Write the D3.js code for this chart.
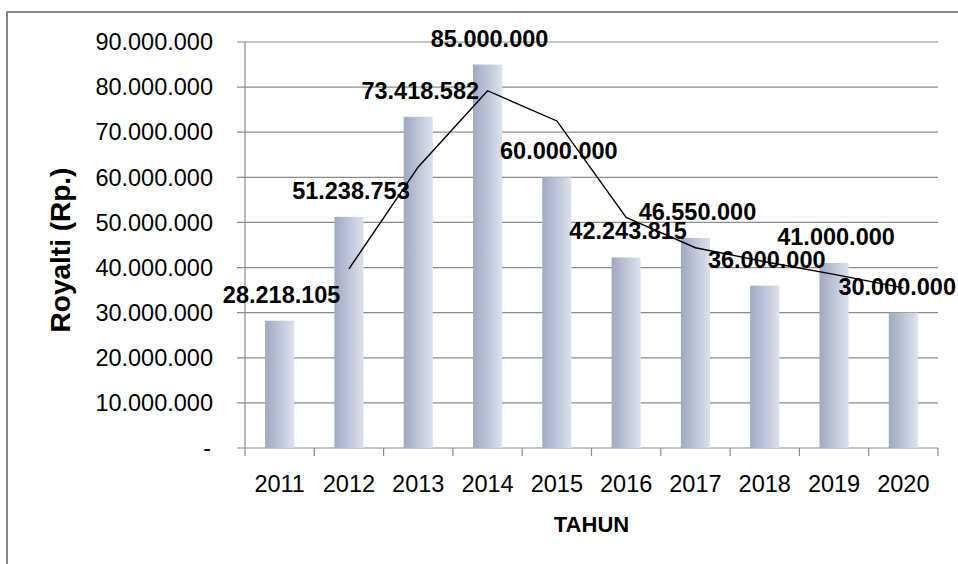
<!DOCTYPE html>
<html>
<head>
<meta charset="utf-8">
<script src="https://cdn.jsdelivr.net/npm/d3@7"></script>
<style>
    body { margin: 0; background: #fff; }
    svg text { font-family: "Liberation Sans", Arial, sans-serif; fill: #000; }
    .tick-label { font-size: 23.5px; }
    .bar-label { font-size: 23.5px; font-weight: bold; }
    .axis-title { font-weight: bold; }
</style>
</head>
<body>
<svg id="chart" width="958" height="564"></svg>
<script>

/*********************/
/*** INIT VARIABLE ***/
/*********************/

let years = ["2011", "2012", "2013", "2014", "2015", "2016", "2017", "2018", "2019", "2020"];
let royalti = [28218105, 51238753, 73418582, 85000000, 60000000, 42243815, 46550000, 36000000, 41000000, 30000000];

// trend line (2 period moving average)
let trend_years = ["2012", "2013", "2014", "2015", "2016", "2017", "2018", "2019", "2020"];
let trend_values = [39700000, 62300000, 79200000, 72500000, 51100000, 44400000, 41300000, 38500000, 35500000];

let y_ticks = [0, 10000000, 20000000, 30000000, 40000000, 50000000, 60000000, 70000000, 80000000, 90000000];

let svg = d3.select("#chart");

let margin = {top: 42, right: 20, bottom: 116, left: 245},
    width  = 938 - margin.left,
    height = 448 - margin.top;

let x = d3.scaleBand().domain(years).range([margin.left, margin.left + width]).paddingInner(0.58).paddingOuter(0.29),
    y = d3.scaleLinear().domain([0, 90000000]).range([margin.top + height, margin.top]);

let id_locale = d3.formatLocale({decimal: ",", thousands: ".", grouping: [3], currency: ["Rp", ""]});
let fmt = id_locale.format(",d");

/********************************/
/*** DECLARE HELPER FUNCTIONS ***/
/********************************/

function draw_frame() {
    svg.append("rect")
        .attr("x", 7)
        .attr("y", 12)
        .attr("width", 1000)
        .attr("height", 600)
        .attr("fill", "none")
        .attr("stroke", "#878787")
        .attr("stroke-width", 2);
}

function draw_gradient() {
    let grad = svg.append("defs").append("linearGradient")
        .attr("id", "bar-grad")
        .attr("x1", "0%").attr("x2", "100%")
        .attr("y1", "0%").attr("y2", "0%");
    grad.append("stop").attr("offset", "0%").attr("stop-color", "#9fa9c5");
    grad.append("stop").attr("offset", "100%").attr("stop-color", "#dee1eb");
}

function draw_axes() {
    // horizontal gridlines, reaching out past the y axis as ticks
    svg.selectAll("line.grid")
        .data(y_ticks.filter((d) => d > 0)).enter()
        .append("line")
        .classed("grid", true)
        .attr("x1", margin.left - 8)
        .attr("x2", margin.left + width)
        .attr("y1", (d) => y(d))
        .attr("y2", (d) => y(d))
        .attr("stroke", "#8c8c8c")
        .attr("stroke-width", 1.2);

    let x_axis = d3.axisBottom(x).tickSize(0).tickFormat("");
    let gx = svg.append("g")
        .attr("transform", "translate(0," + y(0) + ")")
        .call(x_axis);
    gx.select(".domain").remove();

    // x ticks sit on the category boundaries
    let bounds = years.map((d) => x(d) - x.step() * x.paddingInner() / 2).concat([margin.left + width]);
    svg.selectAll("line.x-tick")
        .data(bounds).enter()
        .append("line")
        .attr("x1", (d) => d).attr("x2", (d) => d)
        .attr("y1", y(0)).attr("y2", y(0) + 8)
        .attr("stroke", "#8c8c8c")
        .attr("stroke-width", 1.2);

    svg.append("line")
        .attr("x1", margin.left - 8).attr("x2", margin.left + width)
        .attr("y1", y(0)).attr("y2", y(0))
        .attr("stroke", "#8c8c8c")
        .attr("stroke-width", 1.2);

    svg.append("line")
        .attr("x1", margin.left).attr("x2", margin.left)
        .attr("y1", y(90000000)).attr("y2", y(0))
        .attr("stroke", "#8c8c8c")
        .attr("stroke-width", 1.2);

    svg.selectAll("text.y-label")
        .data(y_ticks).enter()
        .append("text")
        .classed("tick-label", true)
        .attr("text-anchor", "end")
        .attr("x", (d) => d === 0 ? 211 : 213)
        .attr("y", (d) => y(d))
        .attr("dy", "0.35em")
        .text((d) => d === 0 ? "-" : fmt(d));

    svg.selectAll("text.x-label")
        .data(years).enter()
        .append("text")
        .classed("tick-label", true)
        .attr("text-anchor", "middle")
        .attr("x", (d) => x(d) + x.bandwidth() / 2)
        .attr("y", 491.5)
        .text((d) => d);

    svg.append("text")
        .classed("axis-title", true)
        .attr("text-anchor", "middle")
        .attr("x", margin.left + width / 2)
        .attr("y", 531.5)
        .style("font-size", "22px")
        .text("TAHUN");

    svg.append("text")
        .classed("axis-title", true)
        .attr("text-anchor", "middle")
        .attr("transform", "translate(70,250) rotate(-90)")
        .style("font-size", "28px")
        .text("Royalti (Rp.)");
}

function draw_bars() {
    svg.selectAll("rect.bar")
        .data(years).enter()
        .append("rect")
        .classed("bar", true)
        .attr("x", (d) => x(d))
        .attr("y", (d, i) => y(royalti[i]))
        .attr("width", x.bandwidth())
        .attr("height", (d, i) => y(0) - y(royalti[i]))
        .attr("fill", "url(#bar-grad)");
}

function draw_trend() {
    let line = d3.line()
        .x((d, i) => x(trend_years[i]) + x.bandwidth() / 2)
        .y((d) => y(d));

    svg.append("path")
        .datum(trend_values)
        .attr("d", line)
        .attr("fill", "none")
        .attr("stroke", "#000")
        .attr("stroke-width", 1.4);
}

function draw_labels() {
    let labels = svg.selectAll("text.bar-label")
        .data(years).enter()
        .append("text")
        .classed("bar-label", true)
        .attr("text-anchor", "middle")
        .attr("x", (d) => x(d) + x.bandwidth() / 2 + 2)
        .attr("y", (d, i) => y(royalti[i]) - 18)
        .text((d, i) => fmt(royalti[i]));

    // keep the last label inside the chart, like the spreadsheet does
    labels.each(function() {
        let w = this.getComputedTextLength(),
            cx = +d3.select(this).attr("x");
        if (cx + w / 2 > 956) d3.select(this).attr("x", 956 - w / 2);
    });
}

/*******************/
/*** DRAW CHART ***/
/*******************/

draw_frame();
draw_gradient();
draw_axes();
draw_bars();
draw_trend();
draw_labels();

</script>
</body>
</html>
